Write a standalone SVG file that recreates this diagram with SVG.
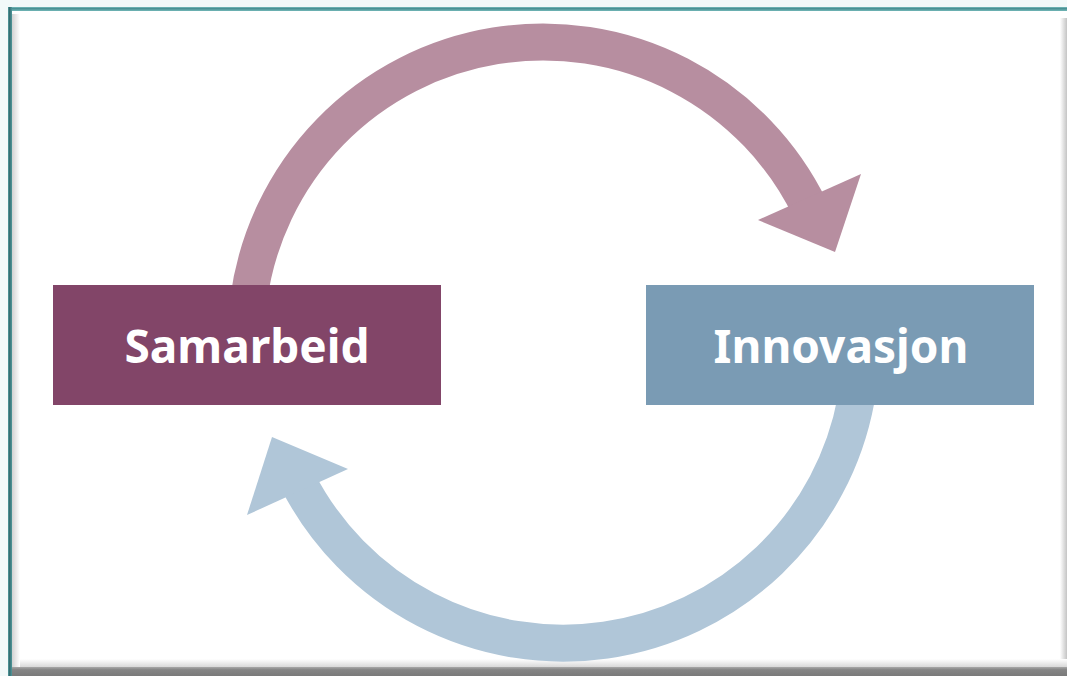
<svg xmlns="http://www.w3.org/2000/svg" width="1067" height="676" viewBox="0 0 1067 676">
  <defs>
    <linearGradient id="shL" x1="0" y1="0" x2="1" y2="0">
      <stop offset="0" stop-color="#d2d2d2"/>
      <stop offset="1" stop-color="#ffffff"/>
    </linearGradient>
    <linearGradient id="shR" x1="0" y1="0" x2="1" y2="0">
      <stop offset="0" stop-color="#ffffff"/>
      <stop offset="1" stop-color="#c4c4c4"/>
    </linearGradient>
    <linearGradient id="shB" x1="0" y1="0" x2="0" y2="1">
      <stop offset="0" stop-color="#ffffff"/>
      <stop offset="1" stop-color="#d8d8d8"/>
    </linearGradient>
    <linearGradient id="shBB" x1="0" y1="0" x2="0" y2="1">
      <stop offset="0" stop-color="#a8a8a8"/>
      <stop offset="0.3" stop-color="#858585"/>
      <stop offset="1" stop-color="#7a7a7a"/>
    </linearGradient>
    <style>
      .label { font-family: "Noto Sans", "Open Sans", "DejaVu Sans", sans-serif; font-weight: 700; font-size: 46px; fill: #ffffff; text-anchor: middle; }
      .arcTop { fill: none; stroke: #b78ea0; stroke-width: 37; stroke-linecap: butt; }
      .arcBot { fill: none; stroke: #b0c6d8; stroke-width: 37; stroke-linecap: butt; }
    </style>
  </defs>

  <g id="frame">
    <rect x="0" y="0" width="1067" height="676" fill="#f2f9f9"/>
    <rect x="12" y="11" width="1055" height="665" fill="#ffffff"/>
    <rect x="12" y="14" width="8" height="653" fill="url(#shL)"/>
    <rect x="1060" y="18" width="7" height="649" fill="url(#shR)"/>
    <rect x="20" y="659" width="1047" height="8" fill="url(#shB)"/>
    <rect x="12" y="667" width="1055" height="9" fill="url(#shBB)"/>
    <rect x="8" y="7" width="1059" height="4" fill="#6aafb0"/>
    <rect x="8" y="8" width="1059" height="1.5" fill="#4a9194"/>
    <rect x="8" y="7" width="4" height="669" fill="#4b8f92"/>
    <rect x="9" y="7" width="1.5" height="669" fill="#356f72"/>
  </g>

  <g id="connectors">
    <g id="arrow-top">
      <path class="arcTop" d="M 248.6 300 A 297 297 0 0 1 810 208.8"/>
      <polygon fill="#b78ea0" points="758,220 835,252 861,174"/>
    </g>
    <g id="arrow-bottom">
      <path class="arcBot" d="M 856 400 A 298 298 0 0 1 297.5 480.3"/>
      <polygon fill="#b0c6d8" points="348,469 272,437 247,515"/>
    </g>
  </g>

  <g id="node-samarbeid">
    <rect x="53" y="285" width="388" height="120" fill="#824568"/>
    <text class="label" x="247" y="363">Samarbeid</text>
  </g>

  <g id="node-innovasjon">
    <rect x="646" y="285" width="388" height="120" fill="#7a9bb4"/>
    <text class="label" x="841" y="363">Innovasjon</text>
  </g>
</svg>
